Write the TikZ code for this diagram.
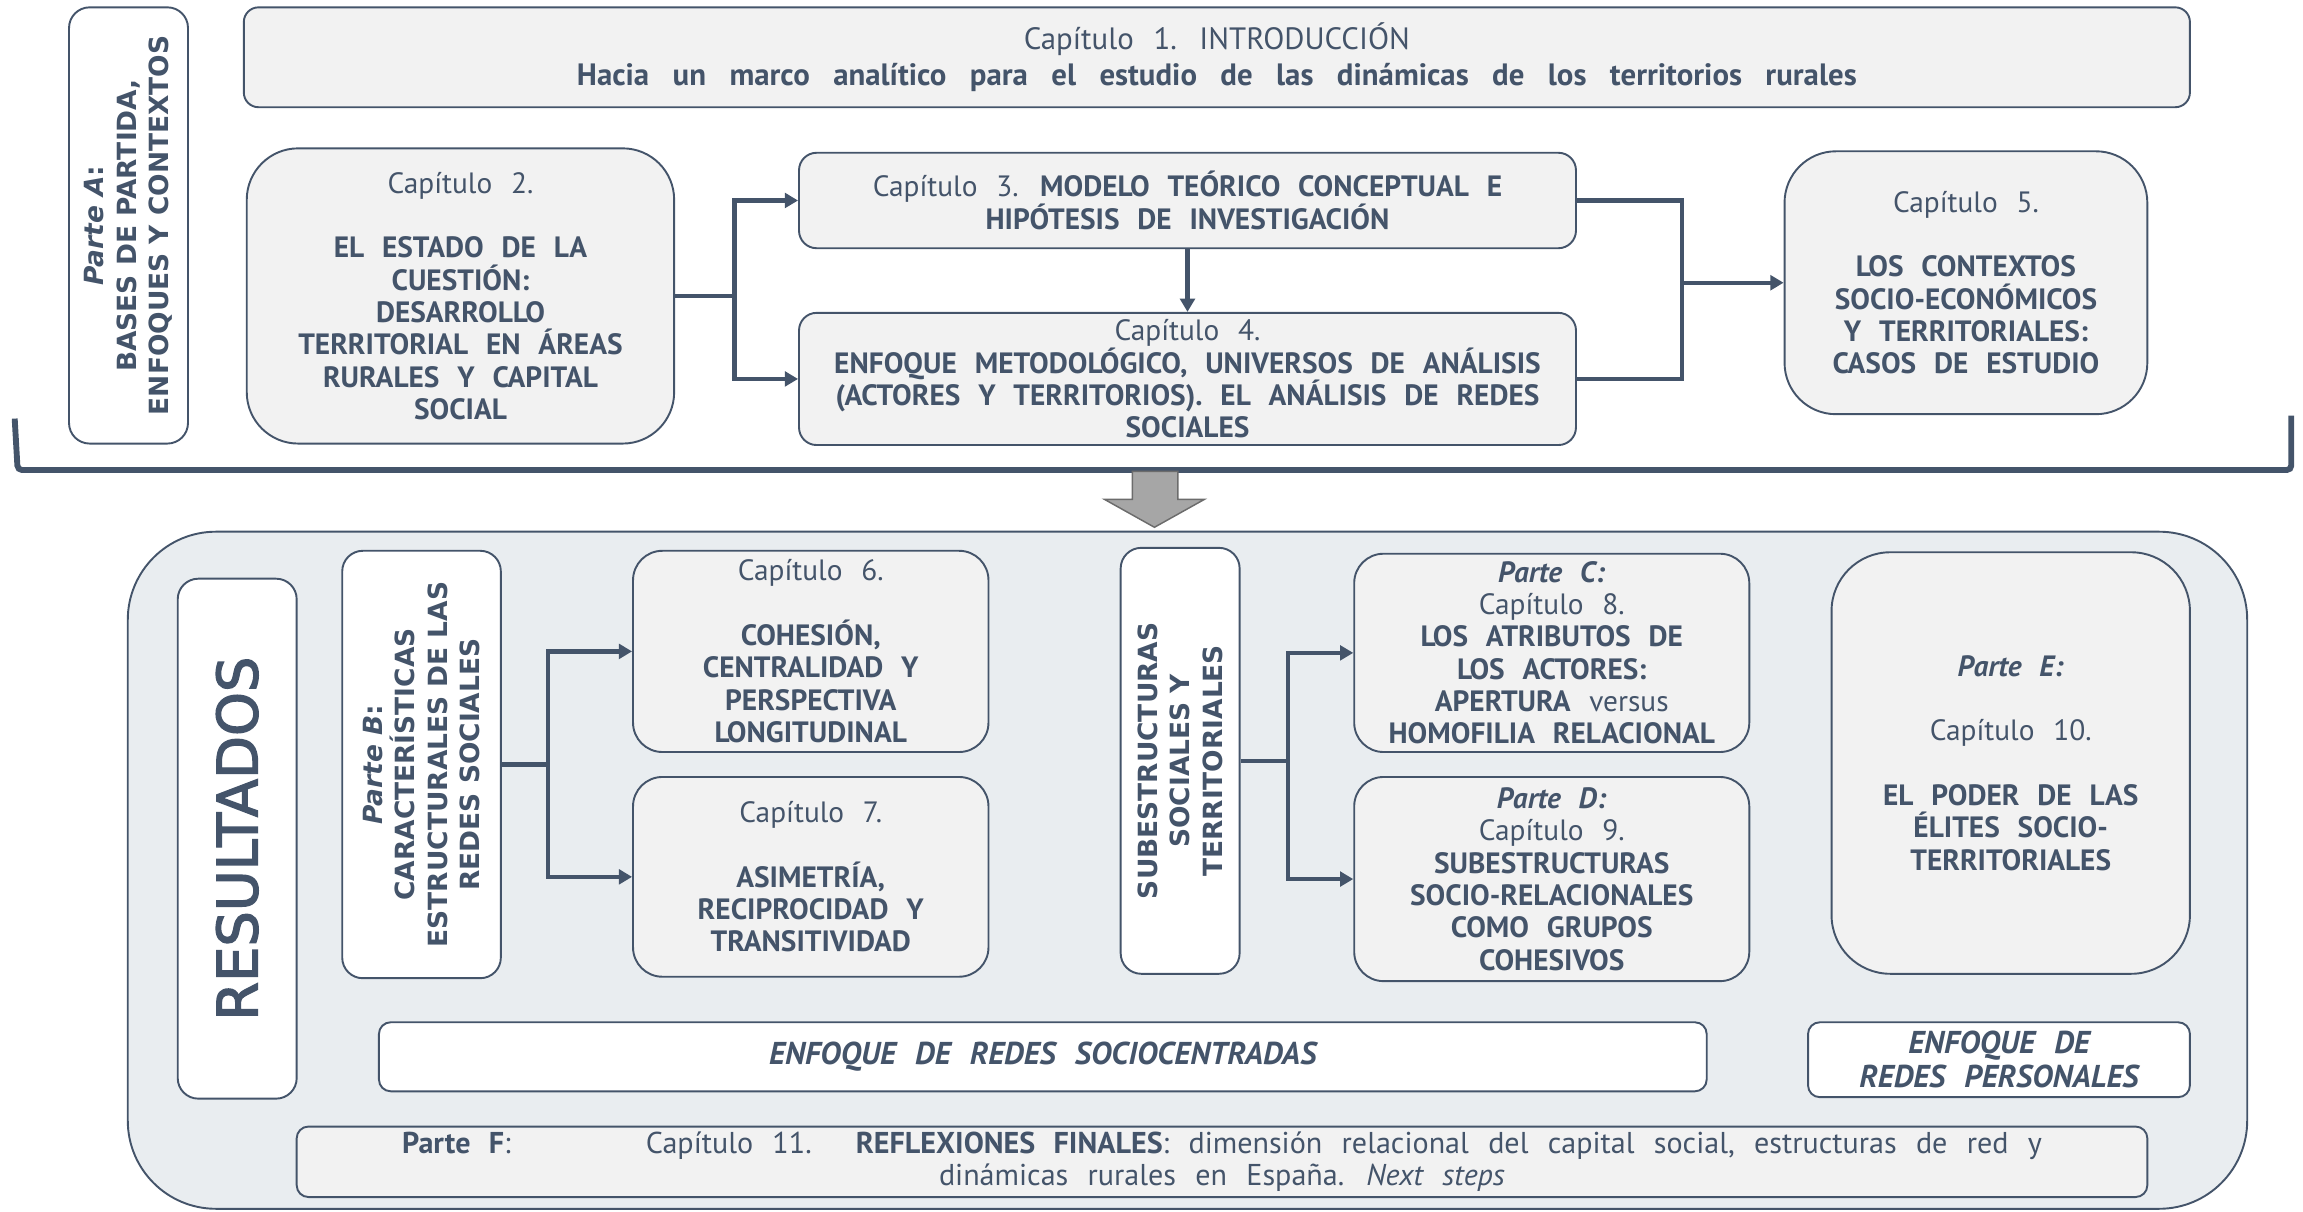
\documentclass[tikz,border=0pt]{standalone}
\usepackage{fontspec}
\setmainfont{PT Sans}[WordSpace=2.4]
\newfontfamily\spacedfont{PT Sans}[WordSpace=3]
\newfontfamily\widefont{DejaVu Sans}
\newfontfamily\heavyfont{DejaVu Sans}[FakeBold=2.5]
\usetikzlibrary{arrows.meta}
\definecolor{slate}{HTML}{44546A}
\definecolor{boxgray}{HTML}{F2F2F2}
\definecolor{panelgray}{HTML}{E9EDF0}
\definecolor{arrowgray}{HTML}{A6A6A6}

\begin{document}
\begin{tikzpicture}[x=1pt, y=-1pt,
        every node/.style = {text=slate, align=center, inner sep=0pt,
            font=\fontsize{20}{22}\selectfont},
        chapbox/.style = {draw=slate, line width=1.3pt, fill=boxgray, rounded corners=#1},
        chapbox/.default = 12pt,
        flatbox/.style = {draw=slate, line width=1.3pt, fill=white, rounded corners=8pt,
            font=\fontsize{21.5}{23}\selectfont\bfseries\itshape},
        sidebox/.style = {draw=slate, line width=1.3pt, fill=white, rounded corners=14pt,
            rotate=90, font=\widefont\bfseries\fontsize{18}{22}\selectfont},
        link/.style = {draw=slate, line width=3pt},
        arrow/.style = {link, -{Triangle[length=9pt, width=10pt]}}]
    \useasboundingbox (0,0) rectangle (1568,825);

    % part A
    \node[sidebox, minimum width=297pt, minimum height=81pt] (parta) at (87.5,153.5)
        {\textit{Parte A}:\\ BASES DE PARTIDA,\\ ENFOQUES Y CONTEXTOS};
    \node[chapbox=10pt, minimum width=1325pt, minimum height=68pt] (cap1) at (828.5,39)
        {{\fontsize{21}{24}\selectfont Capítulo 1. INTRODUCCIÓN}\\[2pt]
         {\spacedfont\fontsize{21}{24}\selectfont\bfseries Hacia un marco analítico para el estudio de las dinámicas de los territorios rurales}};
    \node[chapbox=35pt, minimum width=291pt, minimum height=201pt] (cap2) at (313.5,201.5)
        {Capítulo 2.\\[22pt] \textbf{EL ESTADO DE LA}\\ \textbf{CUESTIÓN:}\\ \textbf{DESARROLLO}\\
         \textbf{TERRITORIAL EN ÁREAS}\\ \textbf{RURALES Y CAPITAL}\\ \textbf{SOCIAL}};
    \node[chapbox, minimum width=529pt, minimum height=65pt] (cap3) at (808.5,136.5)
        {Capítulo 3. \textbf{MODELO TEÓRICO CONCEPTUAL E}\\ \textbf{HIPÓTESIS DE INVESTIGACIÓN}};
    \node[chapbox, minimum width=529pt, minimum height=90pt] (cap4) at (808.5,258)
        {Capítulo 4.\\ \textbf{ENFOQUE METODOLÓGICO, UNIVERSOS DE ANÁLISIS}\\
         \textbf{(ACTORES Y TERRITORIOS). EL ANÁLISIS DE REDES}\\ \textbf{SOCIALES}};
    \node[chapbox=35pt, minimum width=247pt, minimum height=179pt] (cap5) at (1338.5,192.5)
        {Capítulo 5.\\[22pt] \textbf{LOS CONTEXTOS}\\ \textbf{SOCIO-ECONÓMICOS}\\
         \textbf{Y TERRITORIALES:}\\ \textbf{CASOS DE ESTUDIO}};

    \draw[link] (cap2.east) -- (500,201.5) coordinate (split2);
    \draw[arrow] (split2) |- (cap3.west);
    \draw[arrow] (split2) |- (cap4.west);
    \draw[arrow] (cap3.south) -- (cap4.north);
    \coordinate (join5) at (1145,192.5);
    \draw[link] (cap3.east) -| (join5);
    \draw[link] (cap4.east) -| (join5);
    \draw[arrow] (join5) -- (cap5.west);

    % brace and big arrow
    \draw[slate, line width=4pt, rounded corners=3pt] (10,285) -- (12,320) -- (1560,320) -- (1560,283);
    \filldraw[fill=arrowgray, draw=gray!85!black, line width=1pt]
        (771,321) -- (802,321) -- (802,340) -- (820,340) -- (786,359) -- (752,340) -- (771,340) -- cycle;

    % results
    \draw[draw=slate, line width=1.3pt, fill=panelgray, rounded corners=60pt] (87,362) rectangle (1530,823);
    \node[sidebox, font=\heavyfont\fontsize{38}{40}\selectfont, minimum width=354pt, minimum height=81pt]
        (results) at (161.5,571) {RESULTADOS};
    \node[sidebox, minimum width=291pt, minimum height=108pt] (partb) at (287,520.5)
        {\textit{Parte B}:\\ CARACTERÍSTICAS\\ ESTRUCTURALES DE LAS\\ REDES SOCIALES};
    \node[chapbox=20pt, minimum width=242pt, minimum height=137pt] (cap6) at (552,443.5)
        {Capítulo 6.\\[22pt] \textbf{COHESIÓN,}\\ \textbf{CENTRALIDAD Y}\\ \textbf{PERSPECTIVA}\\ \textbf{LONGITUDINAL}};
    \node[chapbox=20pt, minimum width=242pt, minimum height=136pt] (cap7) at (552,597)
        {Capítulo 7.\\[22pt] \textbf{ASIMETRÍA,}\\ \textbf{RECIPROCIDAD Y}\\ \textbf{TRANSITIVIDAD}};
    \node[sidebox, minimum width=290pt, minimum height=81pt] (subest) at (803.5,518)
        {SUBESTRUCTURAS\\ SOCIALES Y\\ TERRITORIALES};
    \node[chapbox=20pt, minimum width=269pt, minimum height=135pt] (cap8) at (1056.5,444.5)
        {\textbf{\textit{Parte C:}}\\ Capítulo 8.\\ \textbf{LOS ATRIBUTOS DE}\\ \textbf{LOS ACTORES:}\\
         \textbf{APERTURA} versus\\ \textbf{HOMOFILIA RELACIONAL}};
    \node[chapbox=20pt, minimum width=269pt, minimum height=139pt] (cap9) at (1056.5,598.5)
        {\textbf{\textit{Parte D:}}\\ Capítulo 9.\\ \textbf{SUBESTRUCTURAS}\\ \textbf{SOCIO-RELACIONALES}\\
         \textbf{COMO GRUPOS}\\ \textbf{COHESIVOS}};
    \node[chapbox=40pt, minimum width=244pt, minimum height=287pt] (cap10) at (1369,519.5)
        {\textbf{\textit{Parte E:}}\\[22pt] Capítulo 10.\\[22pt] \textbf{EL PODER DE LAS}\\
         \textbf{ÉLITES SOCIO-}\\ \textbf{TERRITORIALES}};

    \draw[link] (partb.south) -- (373,520.5) coordinate (split6);
    \draw[arrow] (split6) |- (cap6.west);
    \draw[arrow] (split6) |- (cap7.west);
    \draw[link] (subest.south) -- (877,518) coordinate (split8);
    \draw[arrow] (split8) |- (cap8.west);
    \draw[arrow] (split8) |- (cap9.west);

    \node[flatbox, minimum width=904pt, minimum height=47pt] (socio) at (710,719.5)
        {ENFOQUE DE REDES SOCIOCENTRADAS};
    \node[flatbox, minimum width=260pt, minimum height=51pt] (personal) at (1361,721.5)
        {ENFOQUE DE\\ REDES PERSONALES};
    \node[chapbox=8pt, minimum width=1260pt, minimum height=48pt, font=\fontsize{20.5}{22}\selectfont] (partf) at (832,791)
        {\textbf{Parte F}:\hspace{92pt}Capítulo 11.\hspace{30pt}\textbf{REFLEXIONES FINALES}: dimensión relacional del capital social, estructuras de red y\\
         dinámicas rurales en España. \textit{Next steps}};
\end{tikzpicture}
\end{document}
